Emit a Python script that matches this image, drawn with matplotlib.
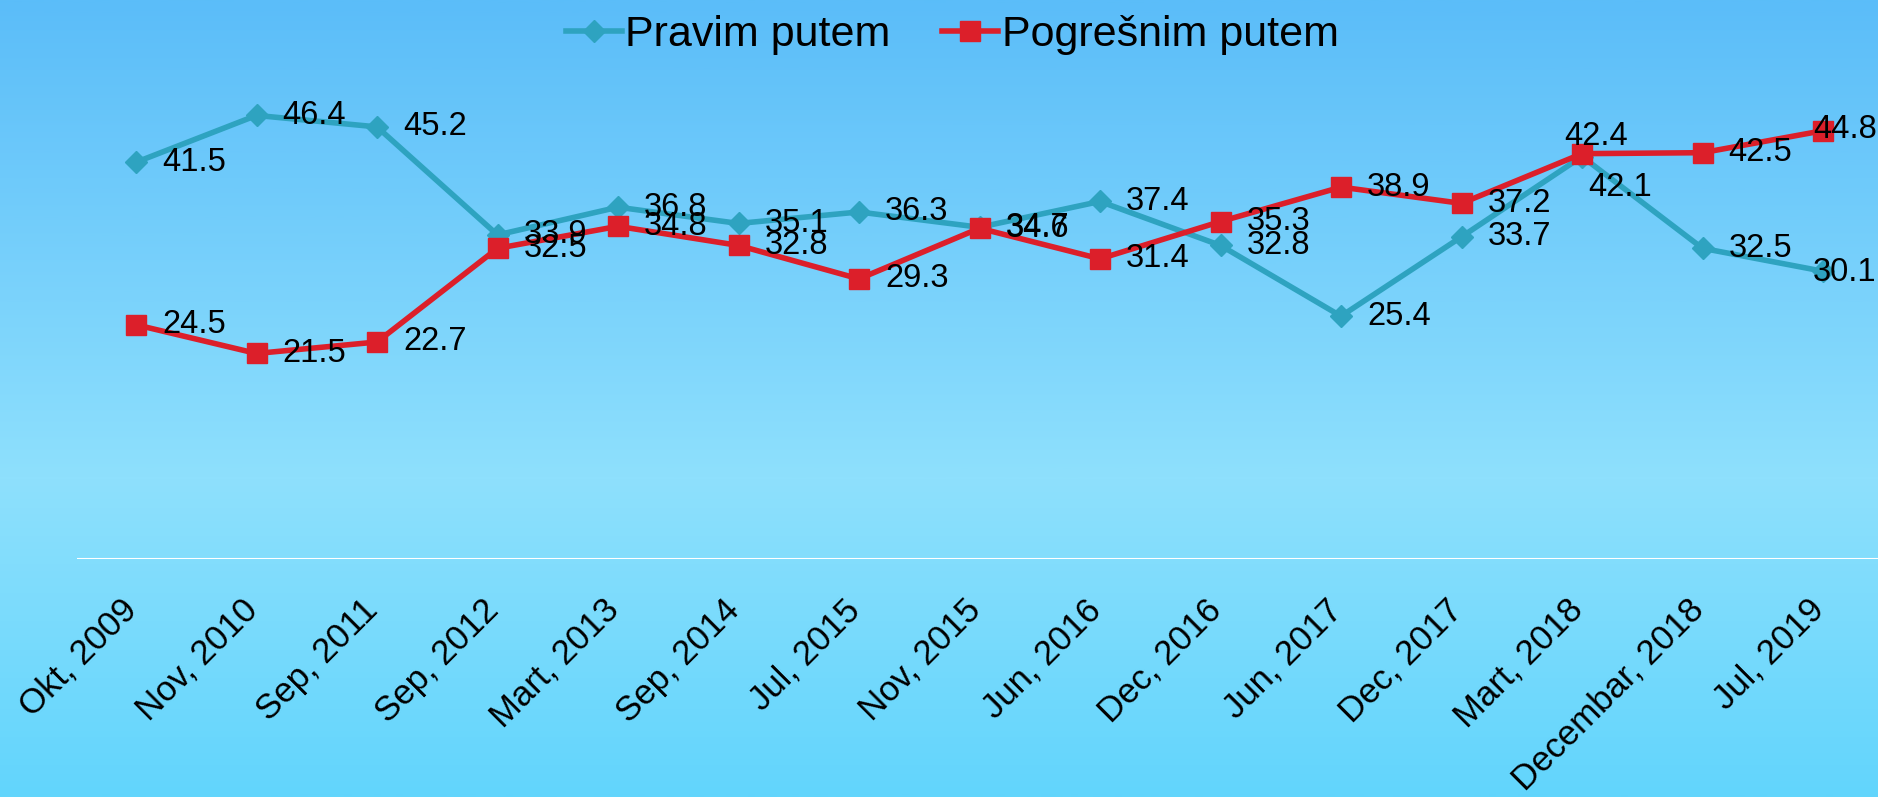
import numpy as np
import matplotlib
matplotlib.use("Agg")
import matplotlib.pyplot as plt
from matplotlib.colors import LinearSegmentedColormap
from matplotlib.transforms import ScaledTranslation

plt.rcParams['font.family'] = ['Liberation Sans', 'DejaVu Sans']

periods = ['Okt, 2009', 'Nov, 2010', 'Sep, 2011', 'Sep, 2012', 'Mart, 2013',
           'Sep, 2014', 'Jul, 2015', 'Nov, 2015', 'Jun, 2016', 'Dec, 2016',
           'Jun, 2017', 'Dec, 2017', 'Mart, 2018', 'Decembar, 2018', 'Jul, 2019']
pravim = [41.5, 46.4, 45.2, 33.9, 36.8, 35.1, 36.3, 34.7, 37.4, 32.8,
          25.4, 33.7, 42.1, 32.5, 30.1]
pogresnim = [24.5, 21.5, 22.7, 32.5, 34.8, 32.8, 29.3, 34.6, 31.4, 35.3,
             38.9, 37.2, 42.4, 42.5, 44.8]

W, H = 1878, 797
fig = plt.figure(figsize=(W / 100, H / 100), dpi=100)

# background gradient (blue top -> light middle -> cyan bottom)
bg = fig.add_axes([0, 0, 1, 1], zorder=0)
cmap = LinearSegmentedColormap.from_list(
    'bg', [(0, '#5bbdf9'), (0.6, '#8ee0fd'), (1, '#62d5fc')])
bg.imshow(np.linspace(0, 1, 400).reshape(-1, 1), aspect='auto', cmap=cmap,
          extent=[0, 1, 0, 1])
bg.axis('off')

left = 77
ax = fig.add_axes([left / W, 1 - 559 / H, 1 - left / W, 478 / H], zorder=1)
ax.patch.set_alpha(0)

x = np.arange(len(periods))
ax.plot(x, pravim, color='#2ea3c0', lw=4, marker='D', ms=11,
        label='Pravim putem', clip_on=False, zorder=3)
ax.plot(x, pogresnim, color='#dc1f2a', lw=4, marker='s', ms=14.5,
        label='Pogrešnim putem', clip_on=False, zorder=4)

# data labels, right of the point (a few moved by hand like in the original)
shift = {('pog', 12): (-18, 17), ('pra', 12): (6, -31),
         ('pog', 14): (-10, 1), ('pra', 14): (-10, -1)}
for key, vals in (('pra', pravim), ('pog', pogresnim)):
    for i, v in enumerate(vals):
        dx, dy = shift.get((key, i), (26, 0))
        ax.annotate(f'{v:.1f}', (i, v), xytext=(dx * 0.72, dy * 0.72),
                    textcoords='offset points', ha='left', va='center',
                    fontsize=23.5, color='black', zorder=5, annotation_clip=False)

ax.set_xlim(-(136 - left) / 120.5, 14 + (W - 1823) / 120.5)
ax.set_ylim(0, 50)
for s in ax.spines.values():
    s.set_visible(False)
ax.axhline(0, color='white', lw=1.5)
ax.set_yticks([])

ax.set_xticks(x)
ax.set_xticklabels(periods, rotation=45, ha='right', va='center',
                   rotation_mode='anchor', fontsize=25)
ax.tick_params(axis='x', length=0, pad=33)
off = ScaledTranslation(-4 / 100, 0, fig.dpi_scale_trans)
for lab in ax.get_xticklabels():
    lab.set_transform(lab.get_transform() + off)

fig.legend(loc='upper center', bbox_to_anchor=(0.507, 1.003), ncol=2,
           frameon=False, fontsize=31, handlelength=1.3, handletextpad=0.08,
           columnspacing=1.2, borderaxespad=0.0)

fig.savefig('out.png', dpi=100)
